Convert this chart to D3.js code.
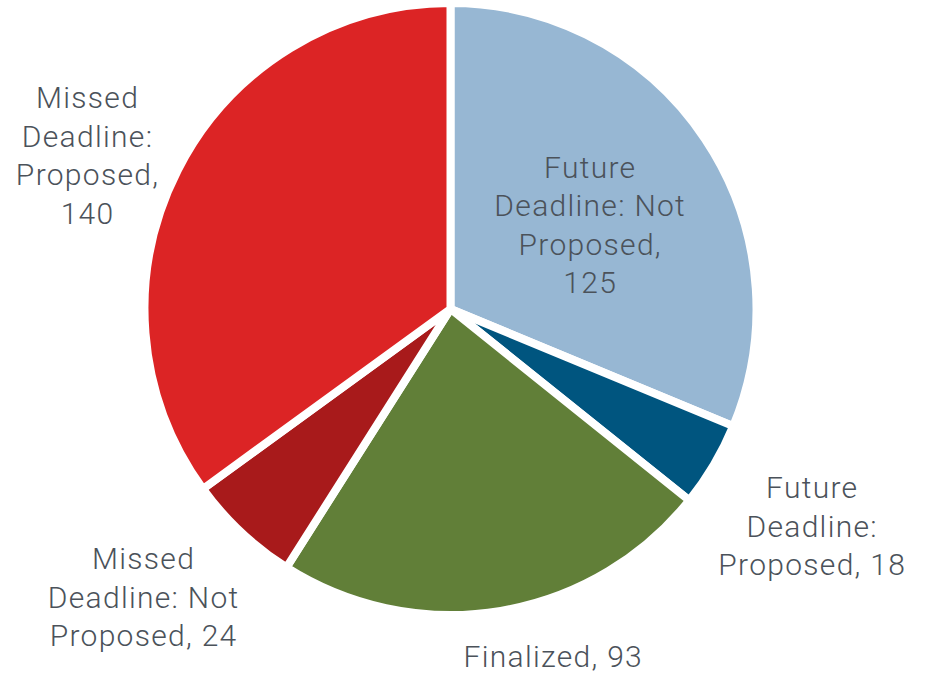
<!DOCTYPE html>
<html>
<head>
<meta charset="utf-8">
<script src="https://cdn.jsdelivr.net/npm/d3@7"></script>
<style>
  html, body { margin: 0; padding: 0; background: #fff; }
  svg { display: block; }
</style>
</head>
<body>
<svg id="chart" width="928" height="674"></svg>
<script>
const categories = [
  "Future Deadline: Not Proposed",
  "Future Deadline: Proposed",
  "Finalized",
  "Missed Deadline: Not Proposed",
  "Missed Deadline: Proposed"
];
const values = [125, 18, 93, 24, 140];
const colors = ["#97B7D3", "#00557F", "#617F38", "#A81A1B", "#DC2425"];
// label line breaks as shown in the chart
const labelLines = [
  ["Future", "Deadline: Not", "Proposed,", "125"],
  ["Future", "Deadline:", "Proposed, 18"],
  ["Finalized, 93"],
  ["Missed", "Deadline: Not", "Proposed, 24"],
  ["Missed", "Deadline:", "Proposed,", "140"]
];

const width = 928, height = 674;
const cx = 450.5, cy = 309, R = 306;
const fontSize = 30, lineH = 38.5;
// label placement: angle (deg, clockwise from top) and distance from center
const labelPlace = [
  {a: 59, d: 163},
  {a: 121, d: 422},
  {a: 163.5, d: 362},
  {a: 226.8, d: 421},
  {a: 292.9, d: 394}
];

const data = categories.map((c, i) => ({cat: c, value: values[i], color: colors[i], lines: labelLines[i], place: labelPlace[i]}));

const svg = d3.select("#chart");
const g = svg.append("g").attr("transform", `translate(${cx},${cy})`);

const pie = d3.pie().sort(null).value(d => d.value).startAngle(0).endAngle(2 * Math.PI);
const arc = d3.arc().innerRadius(0).outerRadius(R);

g.selectAll("path")
  .data(pie(data))
  .join("path")
  .attr("d", arc)
  .attr("fill", d => d.data.color)
  .attr("stroke", "#fff")
  .attr("stroke-width", 8)
  .attr("stroke-linejoin", "miter");

g.selectAll("text.lbl")
  .data(pie(data))
  .join("text")
  .attr("class", "lbl")
  .attr("text-anchor", "middle")
  .attr("font-family", "Roboto, 'Liberation Sans', sans-serif")
  .attr("font-weight", 300)
  .attr("font-size", fontSize)
  .attr("letter-spacing", 1.3)
  .attr("fill", "#4B525A")
  .each(function(d) {
    const p = d.data.place;
    const ang = p.a * Math.PI / 180;
    const x = p.d * Math.sin(ang);
    const y = -p.d * Math.cos(ang);
    const n = d.data.lines.length;
    const t = d3.select(this);
    d.data.lines.forEach((ln, k) => {
      t.append("tspan")
        .attr("x", x)
        .attr("y", y + (k - (n - 1) / 2) * lineH)
        .attr("dy", "0.35em")
        .text(ln);
    });
  });
</script>
</body>
</html>
